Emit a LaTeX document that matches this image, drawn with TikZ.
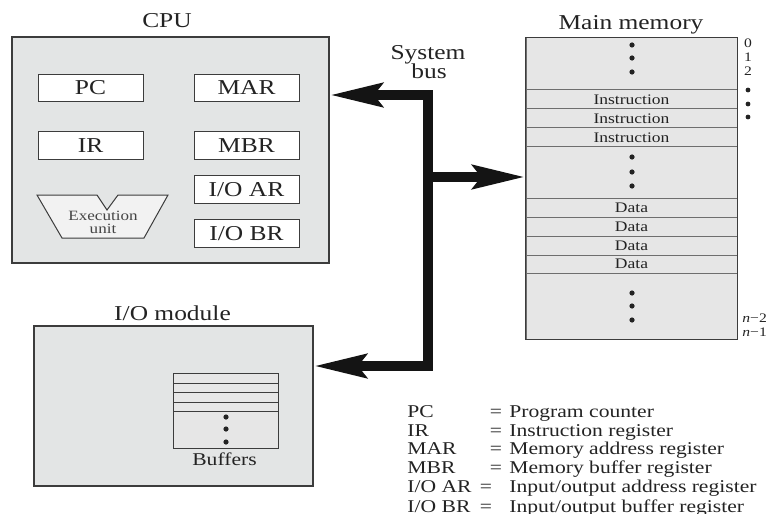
\documentclass[tikz,border=0pt]{standalone}
\usepackage{fontspec}
\setmainfont{Liberation Serif}[FakeStretch=1.2]
\usetikzlibrary{arrows.meta,calc}
\definecolor{boxgray}{RGB}{227,229,229}
\definecolor{cellgray}{RGB}{230,230,230}
\definecolor{edge}{RGB}{60,60,60}
\definecolor{rowline}{RGB}{110,110,110}
\definecolor{ink}{RGB}{35,35,35}
\newcommand\txtsize[2]{\fontsize{#1}{#2}\selectfont}
\begin{document}
\begin{tikzpicture}[x=0.5pt,y=-0.5pt,
  unitbox/.style={draw=edge, line width=0.6pt, fill=boxgray, inner sep=0},
  reg/.style={draw=edge, line width=0.5pt, fill=white, minimum width=52.5pt,
    minimum height=13.75pt, inner sep=0, text=ink, font=\txtsize{10.6}{12}},
  title/.style={font=\txtsize{10.6}{12}, anchor=base, inner sep=0, text=ink},
  mcell/.style={draw=rowline, line width=0.5pt, fill=cellgray, minimum width=105.5pt,
    inner sep=0, text=ink, font=\txtsize{7.3}{8}},
  addr/.style={font=\txtsize{6.5}{7}, anchor=base, inner sep=0, text=ink},
  legend/.style={font=\txtsize{9}{10}, anchor=base west, inner sep=0, text=ink},
  eqsign/.style={font=\txtsize{9}{10}, anchor=base, inner sep=0, text=ink},
  small/.style={font=\txtsize{7.1}{8}, anchor=base, inner sep=0, text=ink!85},
  >={Stealth[length=26pt,width=11.5pt,inset=4pt]},
  bus/.style={line width=5.2pt, line join=miter, draw=black!92}]
\useasboundingbox (0,0) rectangle (774,513);

% ---------------- CPU ----------------
\node[unitbox, minimum width=158.5pt, minimum height=113pt] (cpu) at (170.5,150) {};
\node[title] (cputitle) at (167,28) {CPU};
\node[reg] (pc)   at (90.5,88)    {PC};
\node[reg] (mar)  at (246.5,88)   {MAR};
\node[reg] (ir)   at (90.5,145.5) {IR};
\node[reg] (mbr)  at (246.5,145.5){MBR};
\node[reg] (ioar) at (246.5,189.5){I/O AR};
\node[reg] (iobr) at (246.5,233.5){I/O BR};
% execution unit (trapezoid with a notch)
\draw[draw=edge, line width=0.5pt, fill=black!5]
  (37,195) -- (97,195) -- (107,210) -- (118,195) -- (168,195)
  -- (144,238) -- (62,238) -- cycle;
\node[small] (exu1) at (103,220) {Execution};
\node[small] (exu2) at (103,233) {unit};

% ---------------- I/O module ----------------
\node[unitbox, minimum width=139.5pt, minimum height=80pt] (io) at (173.5,406) {};
\node[title] (iotitle) at (172.5,320) {I/O module};
\node[draw=edge, line width=0.5pt, fill=cellgray, minimum width=52.5pt,
  minimum height=37.5pt, inner sep=0] (buf) at (225.5,410.5) {};
\foreach \yy in {383,392,402,411}
  \draw[edge, line width=0.5pt] (173,\yy) -- (278,\yy);
\foreach \yy in {417,429,442}
  \fill[ink] (226,\yy) circle (1.3pt);
\node[font=\txtsize{9}{10}, anchor=base, inner sep=0, text=ink] (buftitle) at (224.5,465) {Buffers};

% ---------------- Main memory ----------------
\node[title] (memtitle) at (631,30) {Main memory};
\node[mcell, minimum height=26pt]   (mtop) at (631.5,64)    {};
\node[mcell, minimum height=9.5pt]  (ins1) at (631.5,99.5)  {Instruction};
\node[mcell, minimum height=9.5pt]  (ins2) at (631.5,118.5) {Instruction};
\node[mcell, minimum height=9.5pt]  (ins3) at (631.5,137.5) {Instruction};
\node[mcell, minimum height=25.5pt] (mmid) at (631.5,172.5) {};
\node[mcell, minimum height=9.5pt]  (d1)   at (631.5,207.5) {Data};
\node[mcell, minimum height=9.5pt]  (d2)   at (631.5,226.5) {Data};
\node[mcell, minimum height=9.5pt]  (d3)   at (631.5,245.5) {Data};
\node[mcell, minimum height=9pt]    (d4)   at (631.5,264)   {Data};
\node[mcell, minimum height=33pt]   (mbot) at (631.5,306)   {};
\draw[edge, line width=0.6pt] (mtop.north west) rectangle (mbot.south east);
\foreach \yy in {45,58,72,157,172,186,293,306,320}
  \fill[ink] (632,\yy) circle (1.3pt);
% addresses
\node[addr] (a0) at (748,48) {0};
\node[addr] (a1) at (748,62) {1};
\node[addr] (a2) at (748,76) {2};
\foreach \yy in {90,104,117}
  \fill[ink] (748,\yy) circle (1.2pt);
\node[addr, anchor=base west] (an2) at (742,322) {\textit{n}−2};
\node[addr, anchor=base west] (an1) at (742,336) {\textit{n}−1};

% ---------------- System bus ----------------
\node[title] (sys1) at (428,60) {System};
\node[title] (sys2) at (429,79) {bus};
\coordinate (bt) at (428,95);
\coordinate (bm) at (428,177);
\coordinate (bb) at (428,366);
\draw[bus,<->] (cpu.east |- bt) -- (bt) -- (bb) -- (io.east |- bb);
\draw[bus,->] (bm) -- (mmid.west |- bm);

% ---------------- Legend ----------------
\node[legend] (l1) at (407,417) {PC};
\node[legend] (l2) at (407,436) {IR};
\node[legend] (l3) at (407,454) {MAR};
\node[legend] (l4) at (407,473) {MBR};
\node[legend] (l5) at (407,492) {I/O AR};
\node[legend] (l6) at (407,512) {I/O BR};
\node[eqsign] (e1) at (496,417) {=};
\node[eqsign] (e2) at (496,436) {=};
\node[eqsign] (e3) at (496,454) {=};
\node[eqsign] (e4) at (496,473) {=};
\node[eqsign] (e5) at (486,492) {=};
\node[eqsign] (e6) at (486,512) {=};
\node[legend] (t1) at (509,417) {Program counter};
\node[legend] (t2) at (509,436) {Instruction register};
\node[legend] (t3) at (509,454) {Memory address register};
\node[legend] (t4) at (509,473) {Memory buffer register};
\node[legend] (t5) at (509,492) {Input/output address register};
\node[legend] (t6) at (509,512) {Input/output buffer register};
\end{tikzpicture}
\end{document}
